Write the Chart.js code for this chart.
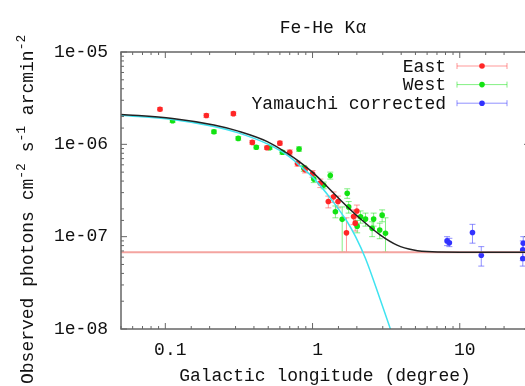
<!DOCTYPE html>
<html>
<head>
<meta charset="utf-8">
<script src="https://cdn.jsdelivr.net/npm/chart.js@4.4.1/dist/chart.umd.min.js"></script>
<style>
html, body { margin: 0; padding: 0; background: #fff; overflow: hidden; }
#wrap { width: 525px; height: 386px; overflow: hidden; }
canvas { display: block; }
</style>
</head>
<body>
<div id="wrap"><canvas id="chart" width="540" height="386"></canvas></div>
<script>
// East (red)
var eastX  = [0.092, 0.19, 0.29, 0.39, 0.49, 0.60, 0.70, 0.79, 0.89, 1.0, 1.13, 1.28, 1.39, 1.49, 1.70, 1.90, 1.95, 2.0];
var eastY  = [2.4e-6, 2.05e-6, 2.15e-6, 1.05e-6, 9.2e-7, 1.03e-6, 8.2e-7, 6.2e-7, 5.3e-7, 4.8e-7, 3.8e-7, 2.4e-7, 2.7e-7, 2.4e-7, 1.1e-7, 1.65e-7, 1.4e-7, 1.9e-7];
var eastLo = [2.3e-6, 1.95e-6, 2.05e-6, 1.0e-6, 8.8e-7, 9.8e-7, 7.7e-7, 5.8e-7, 4.9e-7, 4.4e-7, 3.4e-7, 2.05e-7, 2.35e-7, 2.05e-7, 6.8e-8, 1.35e-7, 1.15e-7, 1.6e-7];
var eastHi = [2.5e-6, 2.15e-6, 2.25e-6, 1.1e-6, 9.6e-7, 1.08e-6, 8.7e-7, 6.6e-7, 5.7e-7, 5.2e-7, 4.2e-7, 2.75e-7, 3.05e-7, 2.75e-7, 1.6e-7, 1.95e-7, 1.65e-7, 2.2e-7];

// West (green)
var westX  = [0.112, 0.214, 0.313, 0.415, 0.511, 0.624, 0.81, 0.873, 1.02, 1.19, 1.32, 1.43, 1.59, 1.72, 1.76, 2.01, 2.12, 2.29, 2.54, 2.6, 2.86, 2.97, 3.13];
var westY  = [1.8e-6, 1.37e-6, 1.16e-6, 9.3e-7, 9.2e-7, 8.2e-7, 8.9e-7, 5.5e-7, 4.2e-7, 3.6e-7, 4.6e-7, 1.86e-7, 1.54e-7, 2.95e-7, 2.1e-7, 1.3e-7, 1.64e-7, 1.55e-7, 1.23e-7, 1.55e-7, 1.18e-7, 1.71e-7, 1.09e-7];
var westLo = [1.72e-6, 1.31e-6, 1.11e-6, 8.9e-7, 8.8e-7, 7.8e-7, 8.4e-7, 5.1e-7, 3.85e-7, 3.3e-7, 4.2e-7, 1.6e-7, 6.8e-8, 2.6e-7, 1.8e-7, 1.1e-7, 1.4e-7, 1.3e-7, 1.0e-7, 1.3e-7, 9.5e-8, 1.45e-7, 6.8e-8];
var westHi = [1.88e-6, 1.43e-6, 1.21e-6, 9.7e-7, 9.6e-7, 8.6e-7, 9.4e-7, 5.9e-7, 4.55e-7, 3.9e-7, 5.0e-7, 2.15e-7, 2.1e-7, 3.3e-7, 2.4e-7, 1.5e-7, 1.9e-7, 1.8e-7, 1.45e-7, 1.8e-7, 1.4e-7, 1.95e-7, 1.6e-7];

// Yamauchi corrected (blue)
var yamaX  = [8.2, 8.5, 12.2, 14.0, 26.8, 26.8, 27.0];
var yamaY  = [9.0e-8, 8.6e-8, 1.11e-7, 6.3e-8, 7.2e-8, 5.8e-8, 8.5e-8];
var yamaLo = [8.0e-8, 7.8e-8, 8.5e-8, 4.8e-8, 5.5e-8, 4.8e-8, 7.2e-8];
var yamaHi = [1.0e-7, 9.6e-8, 1.36e-7, 7.8e-8, 9.0e-8, 7.0e-8, 1.0e-7];

// model curves
var modelX = [0.05, 0.112, 0.214, 0.313, 0.493, 0.702, 0.787, 1.02, 1.324, 1.72, 2.23, 2.89, 3.75, 4.86, 6.5, 10, 30];
var modelY = [2.11e-6, 1.91e-6, 1.62e-6, 1.39e-6, 1.07e-6, 7.66e-7, 6.76e-7, 4.85e-7, 3.2e-7, 2.11e-7, 1.45e-7, 1.04e-7, 8.1e-8, 7.16e-8, 6.85e-8, 6.8e-8, 6.8e-8];

var gaussX = [0.05, 0.112, 0.214, 0.313, 0.493, 0.702, 0.787, 1.02, 1.324, 1.72, 1.96, 2.29, 2.89, 3.38, 3.83];
var gaussY = [2.07e-6, 1.86e-6, 1.56e-6, 1.33e-6, 1.01e-6, 7.28e-7, 6.22e-7, 4.28e-7, 2.6e-7, 1.45e-7, 1.0e-7, 5.8e-8, 2.06e-8, 1.0e-8, 5.6e-9];

var bgX = [0.05, 30];
var bgY = [6.8e-8, 6.8e-8];

var xTickLabels = [0.1, 1, 10];

var FONT = '"Liberation Mono", "Courier New", monospace';
var INK = '#111';

function pts(xs, ys) {
    var out = [];
    for (var i = 0; i < xs.length; i++) out.push({x: xs[i], y: ys[i]});
    return out;
}

function isDecade(v) {
    var l = Math.log10(v);
    return Math.abs(l - Math.round(l)) < 1e-6;
}

var frame = {
    id: 'frame',
    beforeDatasetsDraw: function(chart) {
        var ctx = chart.ctx, a = chart.chartArea;
        var sx = chart.scales.x, sy = chart.scales.y;
        ctx.save();
        ctx.beginPath();
        ctx.rect(a.left, a.top, a.right - a.left, a.bottom - a.top);
        ctx.clip();
        chart.data.datasets.forEach(function(ds) {
            if (!ds.errLo) return;
            ctx.strokeStyle = ds.errColor;
            ctx.lineWidth = 1;
            ds.data.forEach(function(p, i) {
                var px = sx.getPixelForValue(p.x);
                var y1 = sy.getPixelForValue(ds.errLo[i]);
                var y2 = sy.getPixelForValue(ds.errHi[i]);
                ctx.beginPath();
                ctx.moveTo(px, y1); ctx.lineTo(px, y2);
                ctx.moveTo(px - 3, y1); ctx.lineTo(px + 3, y1);
                ctx.moveTo(px - 3, y2); ctx.lineTo(px + 3, y2);
                ctx.stroke();
            });
        });
        ctx.restore();
    },
    afterDraw: function(chart) {
        var ctx = chart.ctx, a = chart.chartArea;
        var sx = chart.scales.x, sy = chart.scales.y;
        ctx.save();

        // box
        ctx.strokeStyle = '#666';
        ctx.lineWidth = 1.5;
        ctx.strokeRect(a.left, a.top, a.right - a.left, a.bottom - a.top);

        // inward ticks, all four sides
        ctx.lineWidth = 1;
        ctx.beginPath();
        sx.ticks.forEach(function(t) {
            var px = sx.getPixelForValue(t.value);
            var len = isDecade(t.value) ? 6 : 3;
            ctx.moveTo(px, a.bottom); ctx.lineTo(px, a.bottom - len);
            ctx.moveTo(px, a.top); ctx.lineTo(px, a.top + len);
        });
        sy.ticks.forEach(function(t) {
            var py = sy.getPixelForValue(t.value);
            var len = isDecade(t.value) ? 6 : 3;
            ctx.moveTo(a.left, py); ctx.lineTo(a.left + len, py);
            ctx.moveTo(a.right, py); ctx.lineTo(a.right - len, py);
        });
        ctx.stroke();

        // title
        ctx.fillStyle = INK;
        ctx.font = '18px ' + FONT;
        ctx.textAlign = 'center';
        ctx.textBaseline = 'alphabetic';
        ctx.fillText('Fe-He K\u03b1', 323, 33);

        // x axis title
        ctx.fillText('Galactic longitude (degree)', 325, 381);

        // y axis title with superscripts
        var parts = [['Observed photons cm', 0], ['-2', 1], [' s', 0], ['-1', 1], [' arcmin', 0], ['-2', 1]];
        ctx.save();
        ctx.translate(33, 384);
        ctx.rotate(-Math.PI / 2);
        ctx.textAlign = 'left';
        var pos = 0;
        parts.forEach(function(p) {
            ctx.font = (p[1] ? '13px ' : '18px ') + FONT;
            ctx.fillText(p[0], pos, p[1] ? -8 : 0);
            pos += ctx.measureText(p[0]).width;
        });
        ctx.restore();

        // legend
        var row = 0;
        ctx.font = '18px ' + FONT;
        ctx.textAlign = 'right';
        ctx.textBaseline = 'middle';
        chart.data.datasets.forEach(function(ds) {
            if (!ds.inLegend) return;
            var y = 66 + row * 18.6;
            ctx.fillStyle = INK;
            ctx.fillText(ds.label, 446, y + 1);
            ctx.strokeStyle = ds.errColor;
            ctx.lineWidth = 1;
            ctx.beginPath();
            ctx.moveTo(457, y); ctx.lineTo(507, y);
            ctx.moveTo(457, y - 3); ctx.lineTo(457, y + 3);
            ctx.moveTo(507, y - 3); ctx.lineTo(507, y + 3);
            ctx.stroke();
            ctx.fillStyle = ds.backgroundColor;
            ctx.beginPath();
            ctx.arc(482, y, 2.8, 0, Math.PI * 2);
            ctx.fill();
            row++;
        });

        ctx.restore();
    }
};

var lineOpts = function(label, xs, ys, color, width) {
    return {
        type: 'line', label: label, data: pts(xs, ys),
        borderColor: color, borderWidth: width, pointRadius: 0,
        fill: false, cubicInterpolationMode: 'monotone'
    };
};

var pointOpts = function(label, xs, ys, lo, hi, color, errColor) {
    return {
        type: 'scatter', label: label, data: pts(xs, ys),
        backgroundColor: color, borderWidth: 0, pointRadius: 2.8,
        errLo: lo, errHi: hi, errColor: errColor, inLegend: true
    };
};

var config = {
    data: {
        datasets: [
            lineOpts('model', modelX, modelY, '#222', 1.5),
            lineOpts('gaussian', gaussX, gaussY, '#3fe3f0', 1.5),
            lineOpts('background', bgX, bgY, '#f4a4a0', 2),
            pointOpts('East', eastX, eastY, eastLo, eastHi, '#ff2626', 'rgba(255,70,70,0.55)'),
            pointOpts('West', westX, westY, westLo, westHi, '#12e312', 'rgba(30,225,30,0.55)'),
            pointOpts('Yamauchi corrected', yamaX, yamaY, yamaLo, yamaHi, '#3232ff', 'rgba(70,70,255,0.6)')
        ]
    },
    options: {
        responsive: false,
        animation: false,
        layout: { padding: { top: 52, right: 10, left: 0, bottom: 0 } },
        plugins: {
            legend: { display: false },
            title: { display: false },
            tooltip: { enabled: false }
        },
        scales: {
            x: {
                type: 'logarithmic', position: 'bottom',
                min: 0.05, max: 30,
                grid: { display: false, drawTicks: false },
                border: { display: false },
                ticks: {
                    autoSkip: false, maxRotation: 0, padding: 10, labelOffset: 5,
                    color: INK, font: { family: FONT, size: 18 },
                    callback: function(v) {
                        for (var i = 0; i < xTickLabels.length; i++) {
                            if (Math.abs(v - xTickLabels[i]) < 1e-9 * xTickLabels[i] + 1e-12) return String(xTickLabels[i]);
                        }
                        return '';
                    }
                },
                afterFit: function(s) { s.height = 57; }
            },
            y: {
                type: 'logarithmic', position: 'left',
                min: 1e-8, max: 1e-5,
                grid: { display: false, drawTicks: false },
                border: { display: false },
                ticks: {
                    autoSkip: false, padding: 13,
                    color: INK, font: { family: FONT, size: 18 },
                    callback: function(v) {
                        if (!isDecade(v)) return '';
                        var e = Math.round(Math.log10(v));
                        return '1e-' + String(-e).padStart(2, '0');
                    }
                },
                afterFit: function(s) { s.width = 121; }
            }
        }
    },
    plugins: [frame]
};

var chart = new Chart(document.getElementById('chart'), config);
</script>
</body>
</html>
